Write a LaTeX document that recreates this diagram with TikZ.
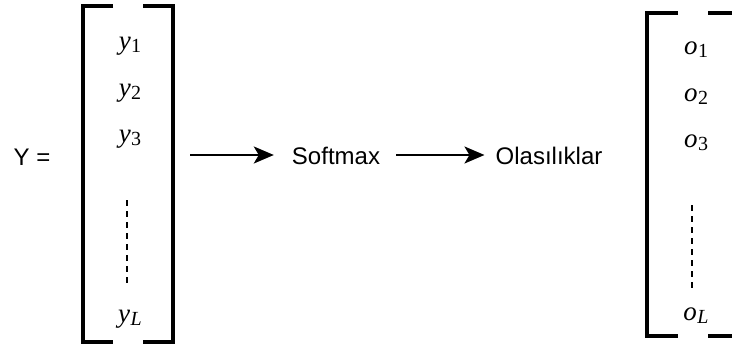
\documentclass[tikz,border=0pt]{standalone}
\usepackage{fontspec}
\setmainfont{Liberation Sans}
\newfontfamily\tmsfont{Liberation Serif}
\usetikzlibrary{arrows.meta}
\newcommand{\vsub}[2]{{\tmsfont\itshape #1}\kern0.5pt\raisebox{-0.12em}{\tmsfont\fontsize{20}{20}\selectfont #2}}
\begin{document}
\begin{tikzpicture}[x=1pt,y=-1pt,
  lbl/.style={font=\fontsize{24}{28}\selectfont, inner sep=0pt},
  var/.style={font=\fontsize{27}{30}\selectfont, inner sep=0pt},
  brk/.style={line width=4pt},
  dots/.style={line width=2pt, dash pattern=on 6pt off 5pt},
  arr/.style={-{Stealth[length=20pt,width=17pt,inset=5pt]}, line width=2pt}]
\useasboundingbox (0,0) rectangle (732,349);
% left vector
\node[lbl] (Y) at (32,157) {Y =};
\draw[brk] (113,6) -- (83,6) -- (83,342) -- (113,342);
\draw[brk] (143,6) -- (173,6) -- (173,342) -- (143,342);
\node[var] (y1) at (130,46) {\vsub{y}{1}};
\node[var] (y2) at (130,93) {\vsub{y}{2}};
\node[var] (y3) at (130,139) {\vsub{y}{3}};
\coordinate (yd1) at (127,200);
\coordinate (yd2) at (127,285);
\draw[dots] (yd1) -- (yd2);
\node[var] (yL) at (130,319) {\vsub{y}{\textit{L}}};
% flow
\node[lbl] (soft) at (336,156) {Softmax};
\node[lbl] (olas) at (549,156) {Olasılıklar};
\coordinate (a1) at (190,155);
\draw[arr] (a1) -- ([xshift=-18pt]soft.west |- a1);
\draw[arr] ([xshift=16pt]soft.east |- a1) -- ([xshift=-11pt]olas.west |- a1);
% right vector
\draw[brk] (678,13) -- (647,13) -- (647,336) -- (678,336);
\draw[brk] (708,13) -- (734,13);
\draw[brk] (708,336) -- (734,336);
\node[var] (o1) at (696,50) {\vsub{o}{1}};
\node[var] (o2) at (696,97) {\vsub{o}{2}};
\node[var] (o3) at (696,143) {\vsub{o}{3}};
\coordinate (od1) at (692,205);
\coordinate (od2) at (692,290);
\draw[dots] (od1) -- (od2);
\node[var] (oL) at (696,316) {\vsub{o}{\textit{L}}};
\end{tikzpicture}
\end{document}
